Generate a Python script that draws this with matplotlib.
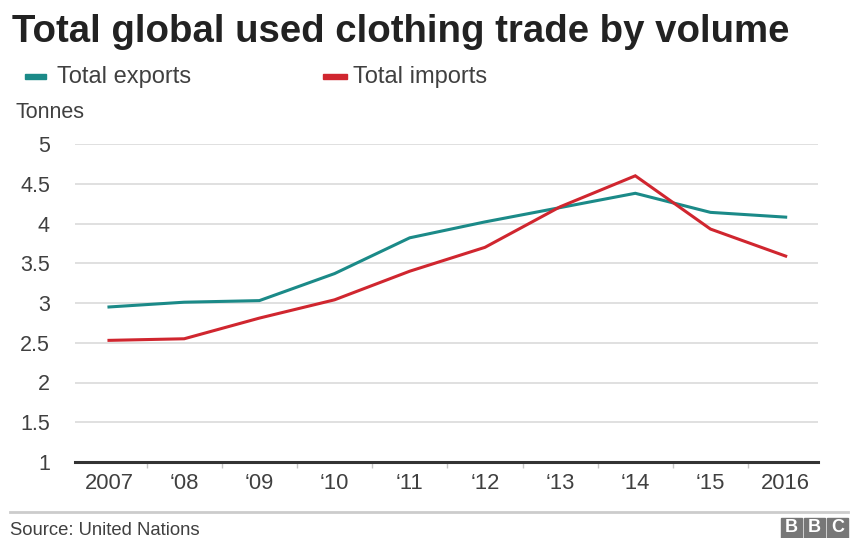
import numpy as np
import matplotlib.pyplot as plt
from matplotlib.patches import Rectangle

plt.rcParams['font.family'] = ['Liberation Sans', 'DejaVu Sans']

years = ['2007', '\u201808', '\u201809', '\u201810', '\u201811', '\u201812', '\u201813', '\u201814', '\u201815', '2016']
exports = [2.95, 3.01, 3.03, 3.37, 3.82, 4.02, 4.20, 4.38, 4.14, 4.08]
imports = [2.53, 2.55, 2.81, 3.04, 3.40, 3.70, 4.21, 4.60, 3.93, 3.59]

TEAL = '#1b8a88'
RED = '#d0262f'
TXT = '#404040'

W, H = 850, 538
fig = plt.figure(figsize=(W / 100, H / 100), dpi=100)


def fx(px):
    return px / W


def fy(py):
    return 1 - py / H


# plot area: x 75..818, y 144 (5) .. 462 (1)
ax = fig.add_axes([fx(75), fy(462), fx(818 - 75), (462 - 144) / H])
x = np.arange(len(years))
ax.plot(x, exports, color=TEAL, lw=2.2, solid_joinstyle='miter')
ax.plot(x, imports, color=RED, lw=2.2, solid_joinstyle='miter')

ax.set_xlim(-0.452, 9.43)
ax.set_ylim(1, 5)
ax.set_yticks(np.arange(1, 5.01, 0.5))
ax.set_yticklabels(['1', '1.5', '2', '2.5', '3', '3.5', '4', '4.5', '5'])
ax.yaxis.grid(True, color='#dddddd', lw=1.3)
ax.set_axisbelow(True)
ax.tick_params(axis='y', length=0, pad=18, labelsize=15.5, labelcolor=TXT)

ax.set_xticks(x)
ax.set_xticklabels(years)
ax.tick_params(axis='x', which='major', length=0, pad=8, labelsize=15.8, labelcolor=TXT)
ax.set_xticks(x[:-1] + 0.5, minor=True)
ax.tick_params(axis='x', which='minor', length=4, width=1, color='#c4c4c4', direction='out')

for s in ['left', 'right', 'top']:
    ax.spines[s].set_visible(False)
ax.spines['bottom'].set_color('#333333')
ax.spines['bottom'].set_linewidth(2.2)

# title and legend
fig.text(fx(12), fy(42), 'Total global used clothing trade by volume',
         fontsize=27.6, fontweight='bold', color='#222222', va='baseline')
fig.patches.append(Rectangle((fx(25), fy(79)), fx(21), 5 / H, color=TEAL,
                             transform=fig.transFigure, figure=fig))
fig.text(fx(57), fy(83), 'Total exports', fontsize=17, color=TXT, va='baseline')
fig.patches.append(Rectangle((fx(323), fy(79)), fx(24), 5 / H, color=RED,
                             transform=fig.transFigure, figure=fig))
fig.text(fx(353), fy(83), 'Total imports', fontsize=17, color=TXT, va='baseline')
fig.text(fx(16), fy(118), 'Tonnes', fontsize=15.5, color=TXT, va='baseline')

# footer
fig.add_artist(plt.Line2D([fx(10), fx(848)], [fy(512), fy(512)], color='#cccccc', lw=2,
                          transform=fig.transFigure))
fig.text(fx(10), fy(535), 'Source: United Nations', fontsize=13.3, color=TXT, va='baseline')
for i, ch in enumerate('BBC'):
    x0 = 781 + i * 23
    fig.patches.append(Rectangle((fx(x0), fy(538)), fx(21), 20 / H, color='#777777',
                                 transform=fig.transFigure, figure=fig))
    fig.text(fx(x0 + 10.5), fy(528), ch, fontsize=13, fontweight='bold', color='white',
             ha='center', va='center')

fig.savefig('out.png', dpi=100)
